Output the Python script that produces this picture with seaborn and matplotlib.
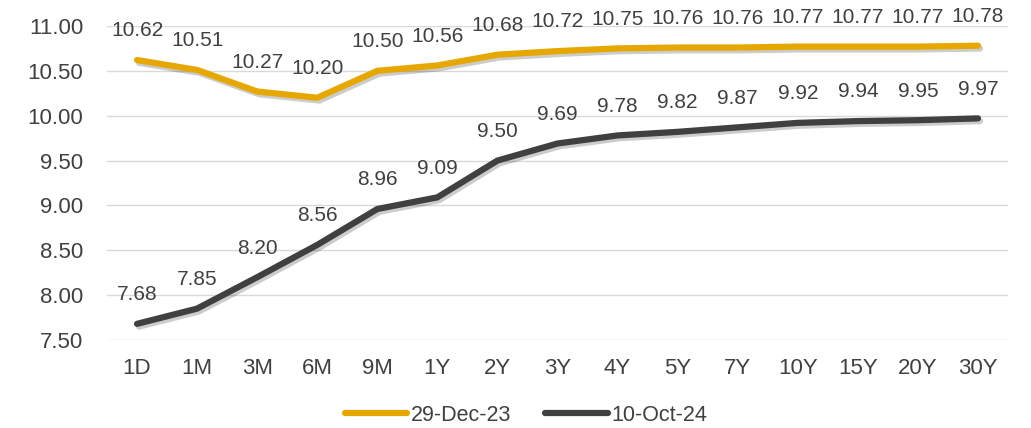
import pandas as pd
import seaborn as sns
import matplotlib.pyplot as plt
import matplotlib.patheffects as pe

tenors = ["1D", "1M", "3M", "6M", "9M", "1Y", "2Y", "3Y", "4Y", "5Y", "7Y", "10Y", "15Y", "20Y", "30Y"]
dec23 = [10.62, 10.51, 10.27, 10.20, 10.50, 10.56, 10.68, 10.72, 10.75, 10.76, 10.76, 10.77, 10.77, 10.77, 10.78]
oct24 = [7.68, 7.85, 8.20, 8.56, 8.96, 9.09, 9.50, 9.69, 9.78, 9.82, 9.87, 9.92, 9.94, 9.95, 9.97]
series = ["29-Dec-23", "10-Oct-24"]
colors = ["#E6A800", "#404040"]

df = pd.concat([
    pd.DataFrame({"tenor": tenors, "yield": dec23, "series": series[0]}),
    pd.DataFrame({"tenor": tenors, "yield": oct24, "series": series[1]}),
])

sns.set_style("white")
plt.rcParams["font.family"] = ["Liberation Sans", "DejaVu Sans"]
txt = "#404040"

fig = plt.figure(figsize=(10.31, 4.28), dpi=100)
ax = fig.add_axes([0.1038, 0.2056, 0.8739, 0.7337])

sns.lineplot(data=df, x="tenor", y="yield", hue="series", palette=colors,
             linewidth=4.5, sort=False, ax=ax, legend=False)

shadow = [pe.SimpleLineShadow(offset=(1.5, -2), alpha=0.2), pe.Normal()]
for line in ax.get_lines():
    line.set_path_effects(shadow)
    line.set_solid_capstyle("round")
    line.set_solid_joinstyle("round")

for vals in (dec23, oct24):
    for i, v in enumerate(vals):
        ax.annotate(f"{v:.2f}", (i, v), xytext=(0, 21), textcoords="offset points",
                    ha="center", va="center", fontsize=15, color=txt)

ax.set_xlim(-0.5, len(tenors) - 0.5)
ax.set_ylim(7.5, 11.0)
ax.set_yticks([7.5 + 0.5 * k for k in range(8)])
ax.set_yticklabels([f"{7.5 + 0.5 * k:.2f}" for k in range(8)])
ax.grid(axis="y", color="#D9D9D9", linewidth=1)
ax.set_axisbelow(True)
for s in ax.spines.values():
    s.set_visible(False)
ax.tick_params(axis="both", length=0, labelsize=16, labelcolor=txt)
ax.tick_params(axis="y", pad=17)
ax.tick_params(axis="x", pad=13)
ax.set_xlabel("")
ax.set_ylabel("")

handles = [plt.Line2D([], [], color=c, lw=4.5, solid_capstyle="round") for c in colors]
leg = fig.legend(handles, series, loc="center", bbox_to_anchor=(0.51, 0.03), ncol=2,
                 frameon=False, fontsize=15.5, handlelength=2.9, handletextpad=0.15,
                 columnspacing=1.6, labelcolor=txt)

fig.savefig("out.png", dpi=100)
